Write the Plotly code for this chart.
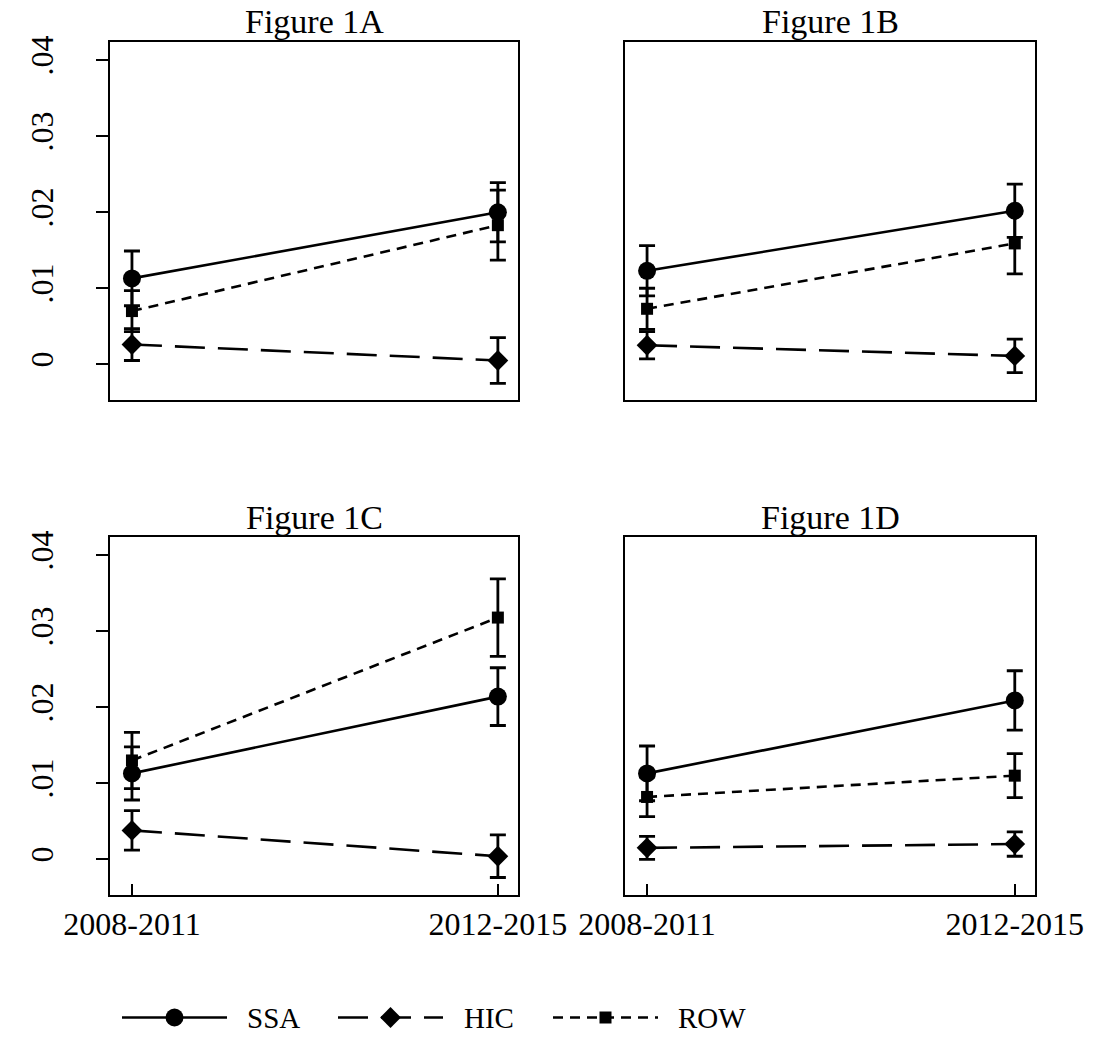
import plotly.graph_objects as go

# ---------------- data ----------------
periods = ["2008-2011", "2012-2015"]
panel_titles = ["Figure 1A", "Figure 1B", "Figure 1C", "Figure 1D"]
series_names = ["SSA", "HIC", "ROW"]

ssa_A = [0.0113, 0.0200]; ssa_A_err = [0.0036, 0.0039]
hic_A = [0.0026, 0.0005]; hic_A_err = [0.0021, 0.0030]
row_A = [0.0070, 0.0183]; row_A_err = [0.0027, 0.0046]

ssa_B = [0.0123, 0.0202]; ssa_B_err = [0.0033, 0.0035]
hic_B = [0.0025, 0.0011]; hic_B_err = [0.0018, 0.0022]
row_B = [0.0073, 0.0159]; row_B_err = [0.0027, 0.0040]

ssa_C = [0.0113, 0.0214]; ssa_C_err = [0.0035, 0.0038]
hic_C = [0.0038, 0.0004]; hic_C_err = [0.0026, 0.0028]
row_C = [0.0130, 0.0318]; row_C_err = [0.0037, 0.0051]

ssa_D = [0.0113, 0.0209]; ssa_D_err = [0.0036, 0.0039]
hic_D = [0.0015, 0.0020]; hic_D_err = [0.0015, 0.0016]
row_D = [0.0082, 0.0110]; row_D_err = [0.0026, 0.0029]

y_tick_vals = [0, 0.01, 0.02, 0.03, 0.04]
y_tick_text = ["0", ".01", ".02", ".03", ".04"]

panels = [
    (ssa_A, ssa_A_err, hic_A, hic_A_err, row_A, row_A_err),
    (ssa_B, ssa_B_err, hic_B, hic_B_err, row_B, row_B_err),
    (ssa_C, ssa_C_err, hic_C, hic_C_err, row_C, row_C_err),
    (ssa_D, ssa_D_err, hic_D, hic_D_err, row_D, row_D_err),
]

# ---------------- styles / layout ----------------
W, H = 1094, 1044
FONT = "Liberation Serif"
LW = 2.6
styles = {
    "SSA": dict(dash="solid", symbol="circle", size=18),
    "HIC": dict(dash="30px,13px", symbol="diamond", size=16),
    "ROW": dict(dash="10px,7px", symbol="square", size=12),
}
# panel boxes in pixels: (left, right, top, bottom)
boxes = [(110, 518, 42, 400), (625, 1035, 42, 400),
         (110, 518, 537, 895), (625, 1035, 537, 895)]


def fx(p):
    return p / W


def fy(p):
    return 1 - p / H


fig = go.Figure()
xpos = [0, 1]

for i, (ps, box) in enumerate(zip(panels, boxes)):
    n = i + 1
    xa = "x" if n == 1 else f"x{n}"
    ya = "y" if n == 1 else f"y{n}"
    vals = {"SSA": (ps[0], ps[1]), "HIC": (ps[2], ps[3]), "ROW": (ps[4], ps[5])}
    for name in ["HIC", "ROW", "SSA"]:
        v, e = vals[name]
        st = styles[name]
        fig.add_trace(go.Scatter(
            x=xpos, y=v, mode="lines+markers", xaxis=xa, yaxis=ya,
            line=dict(color="black", width=LW, dash=st["dash"]),
            marker=dict(color="black", symbol=st["symbol"], size=st["size"]),
            error_y=dict(type="data", array=e, visible=True, color="black",
                         thickness=2.8, width=8),
            showlegend=False, name=name))
    l, r, t, b = box
    bottom_row = i >= 2
    left_col = i % 2 == 0
    fig.update_layout(**{
        ("xaxis" if n == 1 else f"xaxis{n}"): dict(
            domain=[fx(l), fx(r)], range=[-0.06, 1.055],
            tickvals=xpos, ticktext=periods, automargin=False,
            showticklabels=bottom_row, ticks="inside" if bottom_row else "",
            ticklen=11, tickwidth=2, tickcolor="black",
            showline=True, linecolor="black", linewidth=2, mirror=True,
            showgrid=False, zeroline=False, anchor=ya,
            tickfont=dict(family=FONT, size=32, color="black")),
        ("yaxis" if n == 1 else f"yaxis{n}"): dict(
            domain=[fy(b), fy(t)], range=[-0.0047, 0.0424],
            tickvals=y_tick_vals, ticktext=y_tick_text, automargin=False,
            showticklabels=left_col, ticks="outside" if left_col else "",
            ticklen=12, tickwidth=2, tickcolor="black", tickangle=-90,
            ticklabelstandoff=30,
            showline=True, linecolor="black", linewidth=2, mirror=True,
            showgrid=False, zeroline=False, anchor=xa,
            tickfont=dict(family=FONT, size=32, color="black")),
    })
    fig.add_annotation(text=panel_titles[i], xref="paper", yref="paper",
                       x=fx((l + r) / 2), y=fy(t - 20), xanchor="center",
                       yanchor="middle", showarrow=False,
                       font=dict(family=FONT, size=34, color="black"))

# ---------------- legend drawn on its own axis ----------------
legend_items = {  # name: (line start px, line end px, text start px)
    "SSA": (122, 227, 245),
    "HIC": (338, 443, 462),
    "ROW": (553, 658, 676),
}
for name in series_names:
    x0, x1, tx = legend_items[name]
    st = styles[name]
    fig.add_trace(go.Scatter(
        x=[x0, (x0 + x1) / 2, x1], y=[0.5, 0.5, 0.5], mode="lines",
        xaxis="x5", yaxis="y5",
        line=dict(color="black", width=LW, dash=st["dash"]),
        showlegend=False, hoverinfo="skip"))
    fig.add_trace(go.Scatter(
        x=[(x0 + x1) / 2], y=[0.5], mode="markers", xaxis="x5", yaxis="y5",
        marker=dict(color="black", symbol=st["symbol"], size=st["size"]),
        showlegend=False, hoverinfo="skip"))
    fig.add_annotation(text=name, xref="x5", yref="y5", x=tx, y=0.5,
                       xanchor="left", yanchor="middle", showarrow=False,
                       font=dict(family=FONT, size=29, color="black"))

fig.update_layout(
    xaxis5=dict(domain=[0, 1], range=[0, W], visible=False, anchor="y5",
                automargin=False),
    yaxis5=dict(domain=[fy(1040), fy(995)], range=[0, 1], visible=False,
                anchor="x5", automargin=False),
    width=W, height=H, margin=dict(l=0, r=0, t=0, b=0, autoexpand=False),
    paper_bgcolor="white", plot_bgcolor="white",
)

fig.write_html("out.html", config={"displayModeBar": False},
               post_script="document.body.style.margin='0';")
